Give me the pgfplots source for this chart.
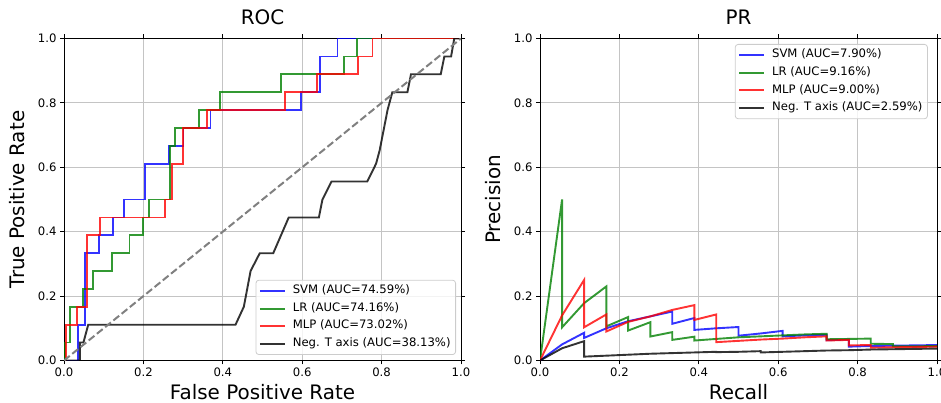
\documentclass[border=0pt]{standalone}
\usepackage{pgfplots}
\pgfplotsset{compat=1.18}
\usepackage{fontspec}
\setmainfont{DejaVu Sans}
\definecolor{mplblue}{rgb}{0,0,1}
\definecolor{mplgreen}{rgb}{0,0.5,0}
\definecolor{mplred}{rgb}{1,0,0}
\definecolor{gridgray}{HTML}{C4C4C4}
\pgfplotsset{
 myax/.style={
  scale only axis, width=397bp, height=322bp,
  xmin=0,xmax=1,ymin=0,ymax=1,
  xtick={0,0.2,0.4,0.6,0.8,1.0}, ytick={0,0.2,0.4,0.6,0.8,1.0},
  tick label style={font=\fontsize{11.7}{14}\selectfont},
  /pgf/number format/.cd, fixed, fixed zerofill, precision=1, assume math mode=true, /pgfplots/.cd,
  grid=major, grid style={gridgray, line width=1bp},
  tick align=outside, major tick length=4bp, tick style={black, line width=0.9bp},
  axis line style={line width=0.9bp},
  title style={font=\fontsize{20}{24}\selectfont, at={(axis description cs:0.5,1.025)}, anchor=base},
  xlabel style={font=\fontsize{20}{24}\selectfont, at={(axis description cs:0.5,-0.122)}, anchor=base},
  ylabel style={font=\fontsize{20}{24}\selectfont, at={(axis description cs:-0.118,0.5)}, anchor=center, rotate=0},
  legend style={font=\fontsize{11.7}{14}\selectfont, draw=black!20, line width=0.8bp, rounded corners=3bp,
    fill=white, fill opacity=0.8, text opacity=1, inner xsep=3bp, inner ysep=2bp, row sep=0pt,
    nodes={inner xsep=2bp, inner ysep=3bp, text height=8.6bp, text depth=3bp},
    /tikz/every odd column/.append style={column sep=5bp}},
  legend cell align=left,
  legend image code/.code={\draw[#1] (0bp,0bp) -- (25bp,0bp);},
  every axis plot/.append style={line width=1.9bp, draw opacity=0.8},
 }
}
\begin{document}
\begin{tikzpicture}
\useasboundingbox (0,0) rectangle (941bp,403bp);
\begin{axis}[myax, at={(64bp,42.5bp)}, anchor=south west,
  title={ROC}, xlabel={False Positive Rate}, ylabel={True Positive Rate},
  legend style={at={(axis description cs:0.9874,0.0171)}, anchor=south east}]
\addplot[mplblue] coordinates {(0,0)(0.036,0)(0.036,0.111)(0.053,0.111)(0.053,0.333)(0.089,0.333)(0.089,0.389)(0.123,0.389)(0.123,0.444)(0.150,0.444)(0.150,0.5)(0.205,0.5)(0.205,0.611)(0.264,0.611)(0.264,0.667)(0.301,0.667)(0.301,0.722)(0.369,0.722)(0.369,0.778)(0.596,0.778)(0.596,0.833)(0.645,0.833)(0.645,0.944)(0.689,0.944)(0.689,1)(1,1)};
\addlegendentry{SVM (AUC=74.59\%)}
\addplot[mplgreen] coordinates {(0,0)(0.003,0)(0.003,0.056)(0.015,0.056)(0.015,0.167)(0.047,0.167)(0.047,0.222)(0.074,0.222)(0.074,0.278)(0.12,0.278)(0.12,0.333)(0.165,0.333)(0.165,0.389)(0.199,0.389)(0.199,0.444)(0.213,0.444)(0.213,0.5)(0.266,0.5)(0.266,0.667)(0.279,0.667)(0.279,0.722)(0.339,0.722)(0.339,0.778)(0.394,0.778)(0.394,0.833)(0.547,0.833)(0.547,0.889)(0.705,0.889)(0.705,0.944)(0.739,0.944)(0.739,1)(1,1)};
\addlegendentry{LR (AUC=74.16\%)}
\addplot[mplred] coordinates {(0,0)(0.005,0)(0.005,0.111)(0.032,0.111)(0.032,0.167)(0.057,0.167)(0.057,0.389)(0.091,0.389)(0.091,0.444)(0.255,0.444)(0.255,0.5)(0.272,0.5)(0.272,0.611)(0.30,0.611)(0.30,0.722)(0.36,0.722)(0.36,0.778)(0.556,0.778)(0.556,0.833)(0.638,0.833)(0.638,0.889)(0.741,0.889)(0.741,0.944)(0.777,0.944)(0.777,1)(1,1)};
\addlegendentry{MLP (AUC=73.02\%)}
\addplot[black] coordinates {(0,0)(0.04,0)(0.04,0.056)(0.049,0.056)(0.061,0.111)(0.432,0.111)(0.453,0.167)(0.47,0.278)(0.493,0.333)(0.527,0.333)(0.566,0.444)(0.642,0.444)(0.651,0.5)(0.674,0.556)(0.764,0.556)(0.786,0.611)(0.795,0.652)(0.815,0.778)(0.827,0.833)(0.865,0.833)(0.874,0.889)(0.949,0.889)(0.958,0.944)(0.975,0.944)(0.983,1)(1,1)};
\addlegendentry{Neg. T axis (AUC=38.13\%)}
\addplot[forget plot, gray, line width=2bp, draw opacity=1, dash pattern=on 7.4bp off 3.2bp] coordinates {(0,0)(1,1)};
\end{axis}
\begin{axis}[myax, at={(540bp,42.5bp)}, anchor=south west,
  title={PR}, xlabel={Recall}, ylabel={Precision},
  legend style={at={(axis description cs:0.977,0.983)}, anchor=north east}]
\addplot[mplblue] coordinates {(0,0)(0.0556,0.05)(0.111,0.086)(0.111,0.07)(0.167,0.10)(0.222,0.122)(0.278,0.137)(0.333,0.152)(0.333,0.114)(0.389,0.132)(0.389,0.095)(0.444,0.10)(0.5,0.104)(0.5,0.077)(0.556,0.084)(0.611,0.092)(0.611,0.075)(0.667,0.078)(0.722,0.08)(0.722,0.063)(0.778,0.065)(0.778,0.043)(0.833,0.045)(0.889,0.046)(0.944,0.047)(1,0.048)};
\addlegendentry{SVM (AUC=7.90\%)}
\addplot[mplgreen] coordinates {(0,0)(0.0556,0.5)(0.0556,0.103)(0.111,0.178)(0.167,0.23)(0.167,0.106)(0.222,0.135)(0.222,0.093)(0.278,0.119)(0.278,0.0745)(0.333,0.088)(0.333,0.064)(0.389,0.074)(0.389,0.062)(0.444,0.067)(0.5,0.072)(0.556,0.075)(0.611,0.078)(0.667,0.081)(0.722,0.083)(0.722,0.066)(0.778,0.067)(0.833,0.068)(0.833,0.052)(0.889,0.051)(0.889,0.044)(0.944,0.044)(1,0.045)};
\addlegendentry{LR (AUC=9.16\%)}
\addplot[mplred] coordinates {(0,0)(0.0556,0.14)(0.111,0.25)(0.111,0.103)(0.167,0.143)(0.167,0.09)(0.222,0.12)(0.278,0.137)(0.333,0.157)(0.389,0.172)(0.389,0.126)(0.444,0.143)(0.444,0.057)(0.5,0.061)(0.556,0.065)(0.611,0.068)(0.667,0.072)(0.722,0.075)(0.722,0.062)(0.778,0.064)(0.778,0.047)(0.833,0.048)(0.833,0.040)(0.889,0.041)(0.944,0.042)(1,0.043)};
\addlegendentry{MLP (AUC=9.00\%)}
\addplot[black] coordinates {(0,0)(0.0556,0.038)(0.111,0.06)(0.111,0.012)(0.167,0.015)(0.222,0.018)(0.278,0.021)(0.333,0.023)(0.389,0.025)(0.444,0.027)(0.444,0.026)(0.5,0.027)(0.556,0.029)(0.556,0.025)(0.611,0.027)(0.667,0.029)(0.722,0.031)(0.778,0.032)(0.833,0.034)(0.889,0.035)(0.944,0.036)(1,0.037)};
\addlegendentry{Neg. T axis (AUC=2.59\%)}
\end{axis}
\end{tikzpicture}
\end{document}
